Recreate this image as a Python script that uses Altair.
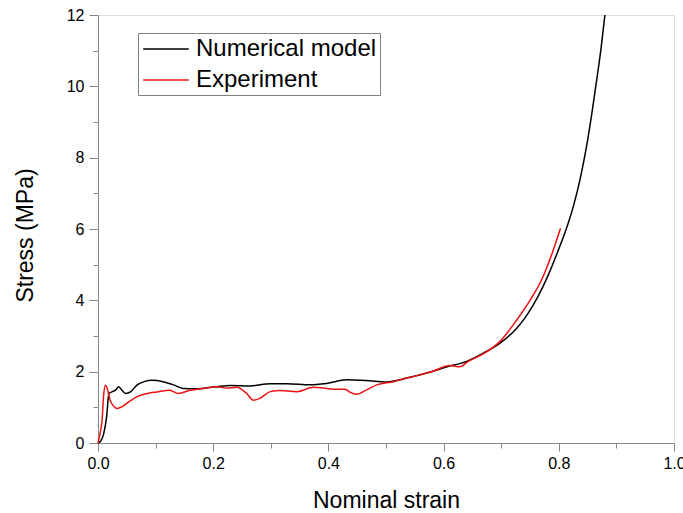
import altair as alt
import pandas as pd

# Numerical model
num_x = [0.000, 0.005, 0.010, 0.015, 0.019, 0.025, 0.031, 0.036, 0.042, 0.048,
         0.057, 0.068, 0.080, 0.094, 0.113, 0.131, 0.148, 0.171, 0.206, 0.229,
         0.264, 0.299, 0.328, 0.368, 0.397, 0.432, 0.466, 0.501, 0.536, 0.571,
         0.605, 0.640, 0.669, 0.698, 0.727, 0.741, 0.756, 0.770, 0.782, 0.799,
         0.815, 0.825, 0.837, 0.848, 0.857, 0.866, 0.874, 0.880]
num_y = [0.00, 0.06, 0.27, 0.74, 1.39, 1.44, 1.49, 1.58, 1.47, 1.39,
         1.44, 1.63, 1.72, 1.76, 1.72, 1.63, 1.53, 1.52, 1.58, 1.61,
         1.60, 1.66, 1.66, 1.63, 1.67, 1.77, 1.75, 1.71, 1.82, 1.96,
         2.13, 2.29, 2.52, 2.80, 3.22, 3.50, 3.88, 4.30, 4.72, 5.40,
         6.10, 6.62, 7.40, 8.30, 9.20, 10.20, 11.15, 12.00]

# Experiment
exp_x = [0.000, 0.004, 0.007, 0.010, 0.013, 0.016, 0.021, 0.027, 0.033, 0.042,
         0.054, 0.068, 0.086, 0.102, 0.125, 0.139, 0.160, 0.183, 0.206, 0.223,
         0.241, 0.258, 0.270, 0.281, 0.299, 0.316, 0.345, 0.374, 0.391, 0.408,
         0.429, 0.438, 0.449, 0.466, 0.484, 0.513, 0.536, 0.559, 0.582, 0.611,
         0.628, 0.643, 0.669, 0.698, 0.727, 0.750, 0.770, 0.788, 0.803]
exp_y = [0.00, 0.30, 0.62, 1.38, 1.62, 1.53, 1.20, 1.04, 0.97, 1.02,
         1.16, 1.30, 1.39, 1.43, 1.48, 1.39, 1.48, 1.53, 1.58, 1.54,
         1.56, 1.39, 1.20, 1.25, 1.44, 1.47, 1.44, 1.56, 1.54, 1.51,
         1.51, 1.42, 1.37, 1.49, 1.63, 1.72, 1.82, 1.91, 2.02, 2.17,
         2.14, 2.29, 2.50, 2.85, 3.45, 4.00, 4.57, 5.30, 6.02]

series_names = ["Numerical model", "Experiment"]
series_colors = ["#000000", "#ee1111"]

x_ticks = [round(i * 0.1, 1) for i in range(11)]
y_ticks = list(range(13))

df = pd.concat([
    pd.DataFrame({"strain": num_x, "stress": num_y, "series": series_names[0]}),
    pd.DataFrame({"strain": exp_x, "stress": exp_y, "series": series_names[1]}),
])

FONT = "Liberation Sans"

x_axis = alt.Axis(
    values=x_ticks,
    labelExpr="round(datum.value*10) % 2 === 0 ? format(datum.value, '.1f') : ''",
    tickSize={"condition": {"test": "round(datum.value*10) % 2 === 1", "value": 5}, "value": 8},
    labelFlush=False,
    labelOverlap=False,
    title="Nominal strain",
    titleFontSize=23,
    titleFontWeight="normal",
    titleBaseline="alphabetic",
    titleY=64,
    labelFontSize=16,
    labelPadding=4,
    grid=False,
)
y_axis = alt.Axis(
    values=y_ticks,
    labelExpr="datum.value % 2 === 0 ? datum.label : ''",
    tickSize={"condition": {"test": "datum.value % 2 === 1", "value": 5}, "value": 9},
    labelFlush=False,
    labelOverlap=False,
    title="Stress (MPa)",
    titleFontSize=23,
    titleFontWeight="normal",
    titleAngle=-90,
    titleBaseline="middle",
    titleX=-73,
    titleY=220,
    labelFontSize=16,
    labelPadding=5,
    grid=False,
)

chart = alt.Chart(df).mark_line(strokeWidth=1.5, interpolate="monotone").encode(
    x=alt.X("strain:Q", scale=alt.Scale(domain=[0, 1], nice=False), axis=x_axis),
    y=alt.Y("stress:Q", scale=alt.Scale(domain=[0, 12], nice=False), axis=y_axis),
    color=alt.Color(
        "series:N",
        scale=alt.Scale(domain=series_names, range=series_colors),
        legend=alt.Legend(
            title=None,
            orient="none",
            legendX=40,
            legendY=18,
            strokeColor="#808080",
            fillColor="white",
            padding=3,
            labelFont=FONT,
            labelFontSize=24,
            labelLimit=400,
            symbolType="M-0.9,0H2.9",
            symbolSize=576,
            symbolStrokeWidth=1.5,
            labelOffset=29,
            rowPadding=6,
        ),
    ),
).properties(
    width=576,
    height=428,
    autosize=alt.AutoSizeParams(type="none"),
    padding={"left": 98, "top": 15, "right": 9, "bottom": 70},
).configure_view(
    stroke="black", strokeWidth=1.3
).configure_axis(
    domainColor="black", domainWidth=1.3, tickColor="black", tickWidth=1.2,
    labelFont=FONT, titleFont=FONT, labelColor="black", titleColor="black",
).configure(background="white")

chart.save("out.html", embed_options={"renderer": "svg", "actions": False})
